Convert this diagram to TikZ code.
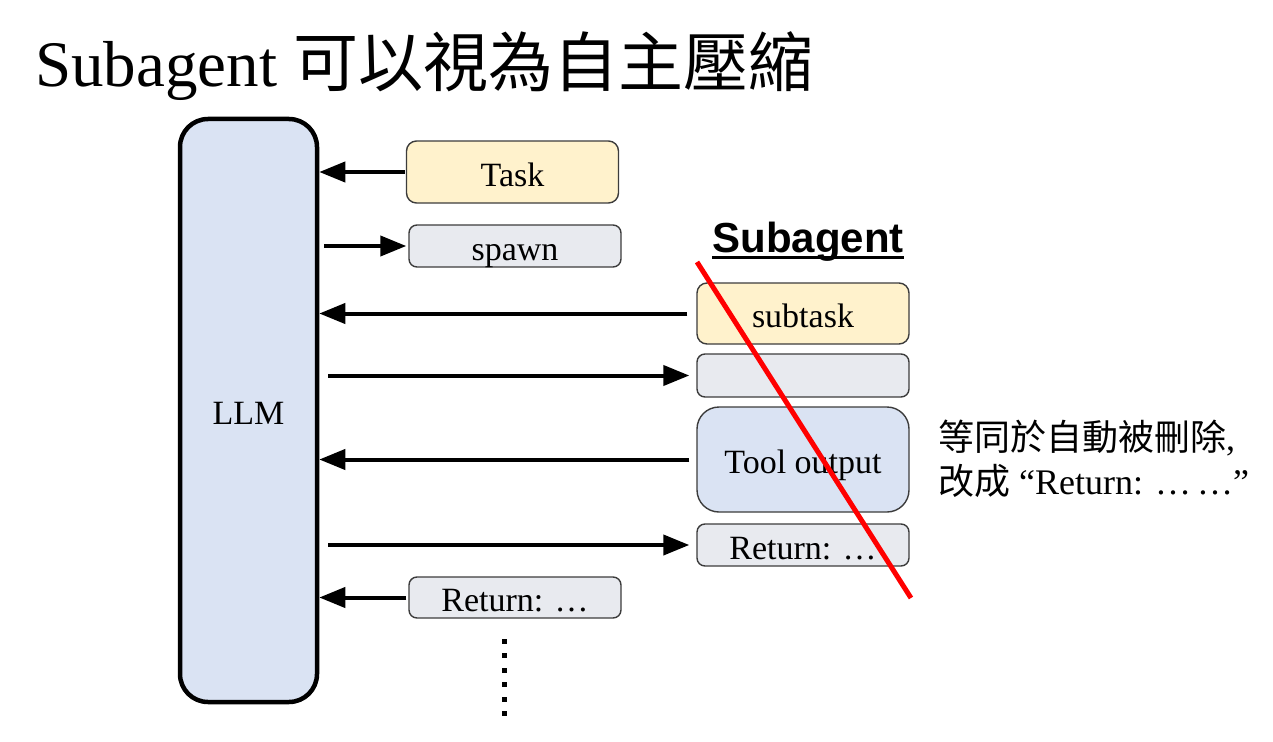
\documentclass[tikz,border=0pt]{standalone}
\usepackage{fontspec}
\setmainfont{Liberation Serif}
\newfontfamily\cjk{Noto Sans CJK TC}
\newfontfamily\headfont{Liberation Sans}
\usetikzlibrary{arrows.meta}
\definecolor{llmblue}{HTML}{DAE3F3}
\definecolor{taskyellow}{HTML}{FFF2CC}
\definecolor{msggray}{HTML}{E8EAEF}
\definecolor{edgegray}{HTML}{3C3C3C}
\tikzset{
  msgbox/.style={draw=edgegray, line width=1.4pt, rounded corners=8pt,
    fill=msggray, minimum width=212pt, inner sep=0pt,
    text height=28pt, text depth=0pt,
    font=\fontsize{34}{40}\selectfont},
  arr/.style={line width=4pt, -{Triangle[length=26pt,width=20pt]}}
}
\begin{document}
\begin{tikzpicture}[x=1pt,y=-1pt]
\useasboundingbox (0,0) rectangle (1273,741);
\node[anchor=base west, inner sep=0pt, font=\fontsize{65}{72}\selectfont] (title) at (35,87)
  {Subagent {\cjk 可以視為自主壓縮}};
\node[draw, line width=4.5pt, fill=llmblue, rounded corners=28pt, text height=28pt, text depth=0pt,
  minimum width=137pt, minimum height=583pt, font=\fontsize{34}{40}\selectfont] (llm) at (248.5,410.5) {LLM};
    % messages on the main line
    \node[msgbox, fill=taskyellow, rounded corners=10pt, minimum height=62pt] (task) at (512.5,172) {Task};
    \node[msgbox, minimum height=42pt] (spawn) at (515,246) {spawn};
    \node[msgbox, minimum height=41pt] (ret) at (515,597.5) {Return: …};
    % messages inside the subagent
    \node[anchor=base, inner sep=0pt, font=\headfont\bfseries\fontsize{42}{46}\selectfont] (sub) at (808,252)
      {Subagent};
    \draw[line width=3pt] ([yshift=-5pt]sub.base west) -- ([yshift=-5pt]sub.base east);
    \node[msgbox, fill=taskyellow, rounded corners=10pt, minimum height=61pt] (subtask) at (803,313.5) {subtask};
    \node[msgbox, minimum height=43pt] (call) at (803,375.5) {};
    \node[msgbox, fill=llmblue, rounded corners=22pt, minimum height=105pt] (tool) at (803,459.5) {Tool output};
    \node[msgbox, minimum height=42pt] (subret) at (803,545) {Return: …};
\draw[arr, shorten <=1pt] (task.west) -- (llm.east |- task.west);
\draw[arr, shorten <=5pt, shorten >=2pt] (llm.east |- spawn.west) -- (spawn.west);
\draw[arr, shorten <=9pt] (subtask.west) -- (llm.east |- subtask.west);
\draw[arr, shorten <=9pt, shorten >=7pt] (llm.east |- call.west) -- (call.west);
\draw[arr, shorten <=7pt] (tool.west) -- (llm.east |- tool.west);
\draw[arr, shorten <=9pt, shorten >=7pt] (llm.east |- subret.west) -- (subret.west);
\draw[arr, shorten <=2pt] (ret.west) -- (llm.east |- ret.west);
\foreach \y in {641,655.5,670,684.5,699,713.5}
  \fill (501.5,\y-2.5) rectangle ++(5,5);
\draw[red, line width=5pt] (697,262) -- (911,598);
\node[anchor=west, align=left, inner sep=0pt, font=\fontsize{36}{44}\selectfont] (note) at (938,459)
  {{\cjk 等同於自動被刪除},\\{\cjk 改成} “Return: …\,…”};
\end{tikzpicture}
\end{document}
